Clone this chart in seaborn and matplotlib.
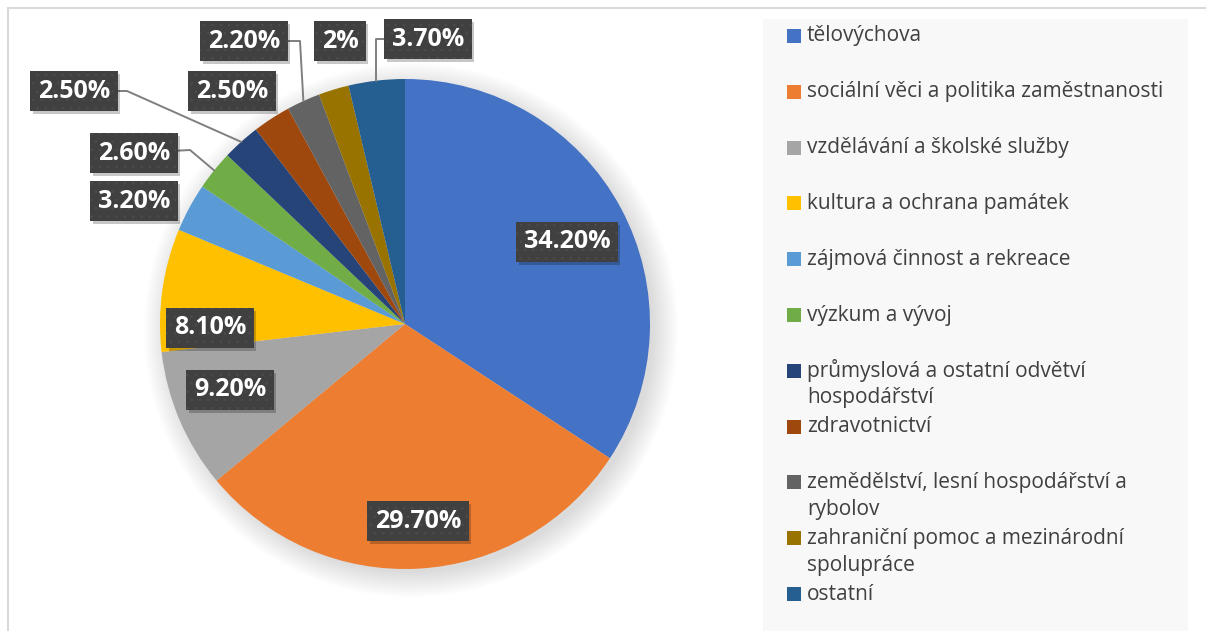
import matplotlib
matplotlib.use('Agg')
import matplotlib.pyplot as plt
from matplotlib.patches import Rectangle, Circle
from matplotlib.transforms import IdentityTransform
import numpy as np
import seaborn as sns

# data
categories = [
    'tělovýchova',
    'sociální věci a politika zaměstnanosti',
    'vzdělávání a školské služby',
    'kultura a ochrana památek',
    'zájmová činnost a rekreace',
    'výzkum a vývoj',
    'průmyslová a ostatní odvětví\nhospodářství',
    'zdravotnictví',
    'zemědělství, lesní hospodářství a\nrybolov',
    'zahraniční pomoc a mezinárodní\nspolupráce',
    'ostatní',
]
shares = [34.2, 29.7, 9.2, 8.1, 3.2, 2.6, 2.5, 2.5, 2.2, 2.0, 3.7]
share_labels = ['34.20%', '29.70%', '9.20%', '8.10%', '3.20%', '2.60%',
                '2.50%', '2.50%', '2.20%', '2%', '3.70%']

colors = sns.color_palette(['#4472C4', '#ED7D31', '#A5A5A5', '#FFC000', '#5B9BD5',
                            '#70AD47', '#264478', '#9E480E', '#636363', '#997300',
                            '#255E91'])

sns.set_theme(style='white')
plt.rcParams['font.family'] = ['Open Sans', 'DejaVu Sans']
plt.rcParams['hatch.linewidth'] = 0.6

W, H = 1206, 631
fig = plt.figure(figsize=(W / 100, H / 100), dpi=100)
fig.patch.set_facecolor('white')

# chart frame
fig.patches.append(Rectangle((8 / W, -0.1), 1.1, 1 - 8 / H + 0.1, transform=fig.transFigure,
                             fill=False, edgecolor='#d9d9d9', linewidth=1.5))

# pie area (pixel geometry of the reference)
cx, cy, r = 405, 324, 245
ax = fig.add_axes([(cx - r) / W, (H - cy - r) / H, 2 * r / W, 2 * r / H])

# soft shadow behind the pie
for i in range(12):
    ax.add_patch(Circle((0.025, -0.025), 0.99 + 0.009 * i, color='black', alpha=0.013,
                        zorder=0, lw=0, clip_on=False))

wedges, _ = ax.pie(shares, colors=colors, startangle=90, counterclock=False,
                   radius=1, wedgeprops=dict(linewidth=0))
for w in wedges:
    w.set_zorder(1)
    w.set_clip_on(False)
ax.set_xlim(-1, 1)
ax.set_ylim(-1, 1)
ax.axis('off')

# label box centres, in pixels
label_px = [(567, 242), (418, 521), (230, 390), (210, 328), (134, 201), (134, 153),
            (74, 91), (232, 91), (244, 41), (340, 41), (428, 39)]
# elbow points for leader lines, in pixels
leader_px = {6: (127, 91), 5: (190, 150), 8: (300, 41), 10: (376, 39)}


def to_data(p):
    return (p[0] - cx) / r, (cy - p[1]) / r


label_texts = []
for i, (txt, pos) in enumerate(zip(share_labels, label_px)):
    x, y = to_data(pos)
    if i in leader_px:
        ex, ey = to_data(leader_px[i])
        mid = np.deg2rad((wedges[i].theta1 + wedges[i].theta2) / 2)
        sx, sy = np.cos(mid), np.sin(mid)
        if i == 10:
            xs, ys = [x, ex, ex], [y, ey, sy]
        else:
            xs, ys = [x, ex, sx], [y, ey, sy]
        ax.plot(xs, ys, color='#7f7f7f', lw=1.4, zorder=3, clip_on=False)
    t = ax.text(x, y, txt, ha='center', va='center', fontsize=18, fontweight='bold',
                color='white', zorder=5, clip_on=False,
                bbox=dict(boxstyle='square,pad=0.3', facecolor='#404040',
                          edgecolor='#4c4c4c', hatch='..', linewidth=0))
    label_texts.append(t)

# drop shadows of the label boxes
fig.canvas.draw()
for t in label_texts:
    bb = t.get_bbox_patch().get_window_extent()
    ax.add_patch(Rectangle((bb.x0 + 2.5, bb.y0 - 2.5), bb.width, bb.height,
                           transform=IdentityTransform(), facecolor='black', alpha=0.22,
                           lw=0, zorder=4, clip_on=False))

# legend panel, drawn in pixel units
lx0, ly0, lx1 = 763, 19, 1188
lax = fig.add_axes([lx0 / W, 0, (lx1 - lx0) / W, (H - ly0) / H])
lax.set_xlim(0, lx1 - lx0)
lax.set_ylim(H - ly0, 0)
lax.set_facecolor('#f8f8f8')
for s in lax.spines.values():
    s.set_visible(False)
lax.set_xticks([])
lax.set_yticks([])

for i, (cat, col) in enumerate(zip(categories, colors)):
    y = 36 + 55.8 * i - ly0
    lax.add_patch(Rectangle((24, y - 7), 14, 14, facecolor=col, edgecolor='none'))
    for k, line in enumerate(cat.split('\n')):
        lax.text(44, y + 27 * k, line, ha='left', va='center', fontsize=15, color='#404040')

fig.savefig('out.png', dpi=100)
